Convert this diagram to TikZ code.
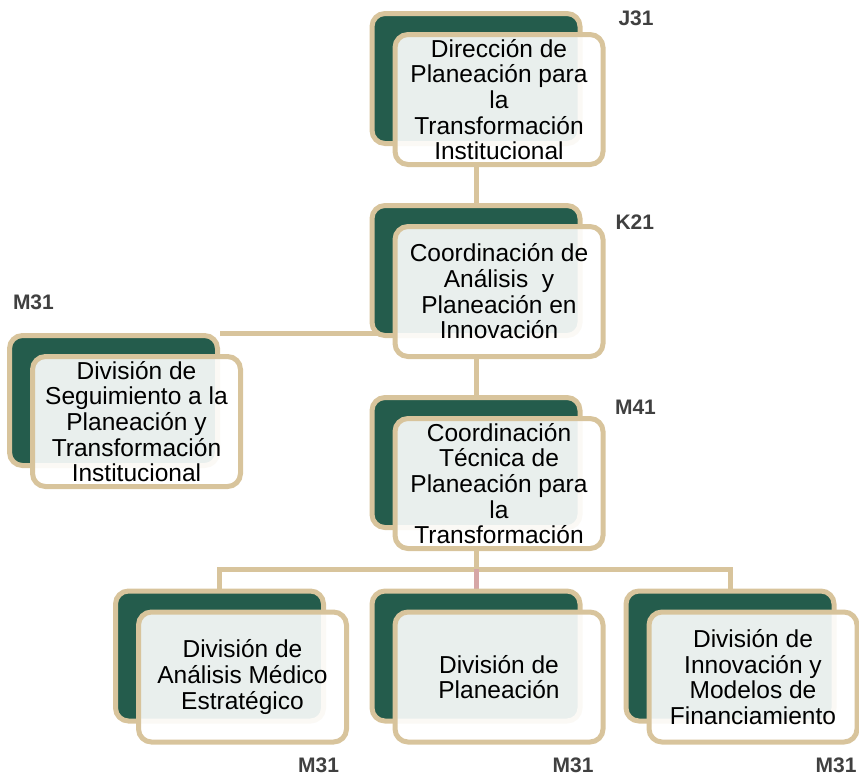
\documentclass[tikz,border=0pt]{standalone}
\usepackage{fontspec}
\setmainfont{Liberation Sans}
\usepackage{tikz}
\usetikzlibrary{positioning,calc}
\definecolor{rim}{HTML}{D8C49C}
\definecolor{pine}{HTML}{245C4C}
\definecolor{rose}{HTML}{D6A6A6}
\definecolor{ink}{HTML}{404040}
\pgfdeclarelayer{wire}
\pgfdeclarelayer{back}
\pgfsetlayers{wire,back,main}
\tikzset{
  card/.style={draw=rim,line width=5pt,rounded corners=13pt,minimum width=208pt,minimum height=130pt,inner sep=0pt},
  backcard/.style={card,fill=pine},
  frontcard/.style={card,fill=white,fill opacity=0.9,text opacity=1,align=center,font=\fontsize{24.5}{25.7}\selectfont},
  tag/.style={font=\fontsize{21}{21}\selectfont\bfseries,text=ink,inner sep=0pt,outer sep=0pt},
  link/.style={draw=rim,line width=5pt},
}

\begin{document}
\begin{tikzpicture}[x=1pt,y=1pt]
\useasboundingbox (0,0) rectangle (859,-779);
% front cards
\node[frontcard] (dir) at (499,-99.5) {Dirección de\\Planeación para\\la\\Transformación\\Institucional};
\node[frontcard,below=57pt of dir] (coord) {Coordinación de\\Análisis~ y\\Planeación en\\Innovación};
\node[frontcard,below left=-5pt and 149.5pt of coord] (seg) {División de\\Seguimiento a la\\Planeación y\\Transformación\\Institucional};
\node[frontcard,below=57pt of coord] (tec) {Coordinación\\Técnica de\\Planeación para\\la\\Transformación};
\node[frontcard,below=58.5pt of tec] (pla) {División de\\Planeación};
\node[frontcard,left=43.5pt of pla] (ame) {División de\\Análisis Médico\\Estratégico};
\node[frontcard,right=41pt of pla] (inn) {División de\\Innovación y\\Modelos de\\Financiamiento};
% green cards behind
\begin{pgfonlayer}{back}
\foreach \n in {dir,coord,seg,tec,ame,pla,inn}
  \node[backcard] (\n bk) at ($(\n.center)+(-23,21)$) {};
\end{pgfonlayer}
% level codes
\node[tag,below right=0pt and 36pt of dirbk.north east] (jlab) {J31};
\node[tag,below right=12pt and 33pt of coordbk.north east] (klab) {K21};
\node[tag,below right=5.5pt and 32.5pt of tecbk.north east] (mlab) {M41};
\node[tag,above right=23pt and 6pt of segbk.north west] (slab) {M31};
\node[tag,below left=13pt and 10pt of ame.south east] (alab) {M31};
\node[tag,below left=13pt and 12pt of pla.south east] (plab) {M31};
\node[tag,below left=13pt and 3pt of inn.south east] (ilab) {M31};
% connectors
\coordinate[below=18pt of tec.south] (bus);
\begin{pgfonlayer}{wire}
\draw[link] (dirbk.south |- dir.south) -- (coordbk.north);
\draw[link] (coordbk.south |- coord.south) -- (tecbk.north);
\draw[link] (segbk.north east) -- (segbk.north east -| coord.west);
\draw[link] (tecbk.south |- tec.south) -- (tecbk.south |- bus);
\draw[link] (amebk.north) -- (amebk.north |- bus) -- (innbk.north |- bus) -- (innbk.north);
\draw[link,draw=rose] (plabk.north) -- (plabk.north |- bus);
\end{pgfonlayer}
\end{tikzpicture}
\end{document}
